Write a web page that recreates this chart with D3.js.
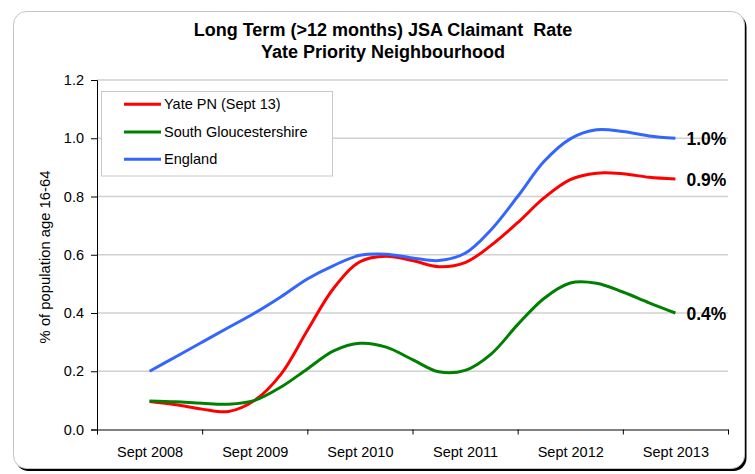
<!DOCTYPE html>
<html>
<head>
<meta charset="utf-8">
<script src="https://cdn.jsdelivr.net/npm/d3@7"></script>
<style>
  html, body { margin: 0; padding: 0; background: #fff; }
  svg { display: block; font-family: Arial, "Liberation Sans", sans-serif; }
</style>
</head>
<body>
<svg id="chart" width="755" height="474"></svg>
<script>
// ---- data ----
const titleLines = ["Long Term (>12 months) JSA Claimant  Rate", "Yate Priority Neighbourhood"];
const yAxisTitle = "% of population age 16-64";
const xLabels = ["Sept 2008", "Sept 2009", "Sept 2010", "Sept 2011", "Sept 2012", "Sept 2013"];
const xLabelMonths = [0, 12, 24, 36, 48, 60];           // months after Sept 2008
const months = [0, 3, 6, 9, 12, 15, 18, 21, 24, 27, 30, 33, 36, 39, 42, 45, 48, 51, 54, 57, 60];
const yTicks = [0, 0.2, 0.4, 0.6, 0.8, 1.0, 1.2];
const seriesNames = ["Yate PN (Sept 13)", "South Gloucestershire", "England"];
const yateValues = [0.096, 0.085, 0.070, 0.062, 0.100, 0.190, 0.340, 0.485, 0.576, 0.595, 0.580, 0.559,
                    0.573, 0.633, 0.710, 0.795, 0.858, 0.880, 0.878, 0.866, 0.860];
const southGlosValues = [0.098, 0.095, 0.090, 0.087, 0.100, 0.146, 0.208, 0.270, 0.296, 0.283, 0.240, 0.198,
                         0.203, 0.260, 0.360, 0.450, 0.503, 0.502, 0.472, 0.435, 0.400];
const englandValues = [0.200, 0.250, 0.300, 0.350, 0.400, 0.456, 0.517, 0.563, 0.598, 0.602, 0.589, 0.580,
                       0.605, 0.687, 0.800, 0.920, 0.998, 1.029, 1.023, 1.008, 1.000];
const seriesColors = ["#FF0000", "#008000", "#3366FF"];

// ---- layout ----
const svg = d3.select("#chart");
const plot = { left: 97, right: 728, top: 80, bottom: 429.5 };

// frame with shadow
svg.append("rect").attr("x", 15.5).attr("y", 14).attr("width", 731).attr("height", 457)
  .attr("rx", 13).attr("fill", "#000");
svg.append("rect").attr("x", 13.5).attr("y", 11.5).attr("width", 731).attr("height", 457)
  .attr("rx", 13).attr("fill", "#fff").attr("stroke", "#c4c4c4").attr("stroke-width", 1);

// title
svg.append("g").selectAll("text").data(titleLines).join("text")
  .attr("x", 383).attr("y", (d, i) => 35.5 + i * 22.5)
  .attr("text-anchor", "middle").attr("font-weight", "bold").attr("font-size", "18px")
  .attr("fill", "#000").style("white-space", "pre").text(d => d);

// scales
const x = d3.scaleLinear().domain([-6, 66]).range([plot.left, plot.right]);
const y = d3.scaleLinear().domain([0, 1.2]).range([plot.bottom, plot.top]);

// gridlines
svg.append("g").selectAll("line").data(yTicks.filter(d => d > 0)).join("line")
  .attr("x1", plot.left).attr("x2", plot.right)
  .attr("y1", d => y(d)).attr("y2", d => y(d))
  .attr("stroke", "#d0d0d0").attr("stroke-width", 1.5);

// y axis
const yAxis = svg.append("g").attr("transform", `translate(${plot.left},0)`)
  .call(d3.axisLeft(y).tickValues(yTicks).tickFormat(d3.format(".1f")).tickSize(6).tickPadding(7));
yAxis.select(".domain").attr("stroke", "#000");
yAxis.selectAll(".tick line").attr("stroke", "#000");
yAxis.selectAll("text").attr("font-size", "14.5px").attr("fill", "#000")
  .attr("font-family", "Arial, 'Liberation Sans', sans-serif");

// x axis: ticks at year boundaries, labels at centres
const boundaries = xLabelMonths.map(m => m - 6).concat([66]);
const xAxis = svg.append("g").attr("transform", `translate(0,${plot.bottom})`)
  .call(d3.axisBottom(x).tickValues(boundaries).tickFormat("").tickSize(5).tickSizeOuter(0));
xAxis.select(".domain").attr("stroke", "#000");
xAxis.selectAll(".tick line").attr("stroke", "#000");
const xLab = svg.append("g").attr("transform", `translate(0,${plot.bottom})`)
  .call(d3.axisBottom(x).tickValues(xLabelMonths).tickFormat((d, i) => xLabels[i]).tickSize(0).tickPadding(17));
xLab.select(".domain").remove();
xLab.selectAll("text").attr("font-size", "14.5px").attr("fill", "#000")
  .attr("font-family", "Arial, 'Liberation Sans', sans-serif");

// y axis title
svg.append("text").attr("transform", "translate(50,257) rotate(-90)")
  .attr("text-anchor", "middle").attr("font-size", "14.8px").attr("fill", "#000").text(yAxisTitle);

// lines
const allSeries = [yateValues, southGlosValues, englandValues];
const line = d3.line().x((d, i) => x(months[i])).y(d => y(d)).curve(d3.curveCatmullRom.alpha(0.5));
svg.append("g").selectAll("path").data(allSeries).join("path")
  .attr("d", d => line(d)).attr("fill", "none")
  .attr("stroke", (d, i) => seriesColors[i]).attr("stroke-width", 3)
  .attr("stroke-linejoin", "round").attr("stroke-linecap", "butt");

// end labels
svg.append("g").selectAll("text").data(allSeries).join("text")
  .attr("x", x(months[months.length - 1]) + 11)
  .attr("y", d => y(d[d.length - 1]) + 7)
  .attr("font-weight", "bold").attr("font-size", "17.5px").attr("fill", "#000")
  .text(d => d3.format(".1f")(d[d.length - 1]) + "%");

// legend
const leg = svg.append("g");
leg.append("rect").attr("x", 101.5).attr("y", 91.5).attr("width", 231).attr("height", 84.5)
  .attr("fill", "#fff").attr("stroke", "#c8c8c8").attr("stroke-width", 1);
const legY = [104.3, 132, 159.3];
const items = leg.selectAll("g.item").data(seriesNames).join("g").attr("class", "item")
  .attr("transform", (d, i) => `translate(0,${legY[i]})`);
items.append("line").attr("x1", 124).attr("x2", 161).attr("y1", 0).attr("y2", 0)
  .attr("stroke", (d, i) => seriesColors[i]).attr("stroke-width", 3);
items.append("text").attr("x", 164).attr("y", 5).attr("font-size", "14.5px").attr("fill", "#000").text(d => d);
</script>
</body>
</html>
